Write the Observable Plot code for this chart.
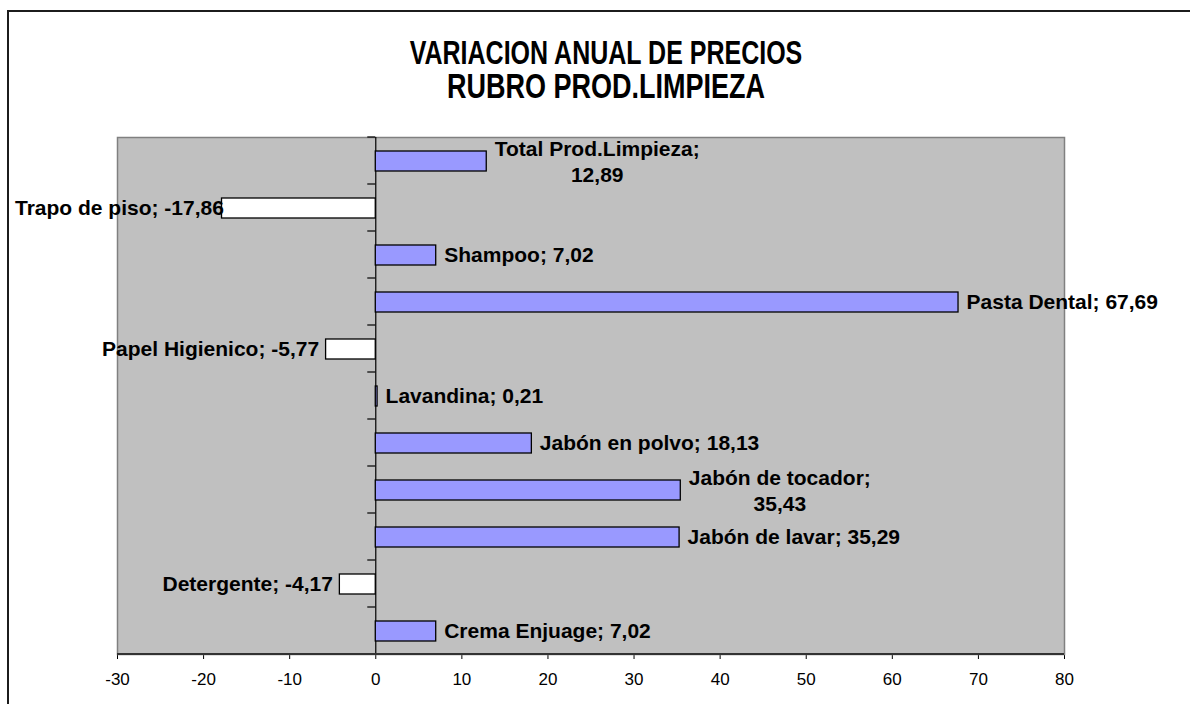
<!DOCTYPE html>
<html><head><meta charset="utf-8">
<script src="https://cdn.jsdelivr.net/npm/d3@7"></script>
<script src="https://cdn.jsdelivr.net/npm/@observablehq/plot@0.6"></script>
<style>
html,body{margin:0;padding:0;background:#fff;}
#wrap{position:relative;width:1190px;height:704px;overflow:hidden;font-family:"Liberation Sans",Arial,sans-serif;}
#border{position:absolute;left:7px;top:10px;width:3000px;height:3000px;border-left:2px solid #1c1c1c;border-top:2px solid #1c1c1c;z-index:2;pointer-events:none;}
#title{position:relative;height:100px;}
.t{position:absolute;left:0;width:1212px;text-align:center;font-weight:bold;color:#000;transform:scaleY(1.3);white-space:nowrap;line-height:1;}
#t1{font-size:25px;top:40px;}
#t2{font-size:27px;top:73px;}
#chart svg{display:block;}
</style>
</head><body>
<div id="wrap">
  <div id="border"></div>
  <div id="title">
    <div class="t" id="t1">VARIACION ANUAL DE PRECIOS</div>
    <div class="t" id="t2">RUBRO PROD.LIMPIEZA</div>
  </div>
  <div id="chart"></div>
</div>
<script>
const categories = ["Crema Enjuage","Detergente","Jabón de lavar","Jabón de tocador","Jabón en polvo","Lavandina","Papel Higienico","Pasta Dental","Shampoo","Trapo de piso","Total Prod.Limpieza"];
const values = [7.02,-4.17,35.29,35.43,18.13,0.21,-5.77,67.69,7.02,-17.86,12.89];
const xTicks = [-30,-20,-10,0,10,20,30,40,50,60,70,80];
const wrappedLabels = ["Total Prod.Limpieza","Jabón de tocador"];

const fmt = v => v.toFixed(2).replace(".", ",");
const rows = categories.map((name, i) => ({name, value: values[i]}));
const yDomain = categories.slice().reverse();

const labelFont = 21;
const fontFamily = '"Liberation Sans", Arial, sans-serif';
const ctx = document.createElement("canvas").getContext("2d");
ctx.font = `bold ${labelFont}px ${fontFamily}`;
const gap = 8;

const single = rows.filter(d => !wrappedLabels.includes(d.name));
const wrappedMarks = rows.filter(d => wrappedLabels.includes(d.name)).map(d => {
  const first = `${d.name};`;
  const w = ctx.measureText(first).width;
  return Plot.text([d], {
    x: "value", y: "name",
    text: r => `${r.name};\n${fmt(r.value)}`,
    textAnchor: "middle", dx: gap + w / 2,
    lineHeight: 1.2,
    fontSize: labelFont, fontWeight: "bold", fill: "#000"
  });
});

const structure = (index, scales, vals, dims) => {
  const g = d3.create("svg:g");
  const x0 = scales.x(0);
  const bw = scales.y.bandwidth();
  const starts = yDomain.map(c => scales.y(c));
  const bounds = starts.concat([Math.max(...starts) + bw]);
  for (const y of bounds) {
    g.append("line").attr("x1", x0 - 8).attr("x2", x0).attr("y1", y).attr("y2", y)
      .attr("stroke", "#000").attr("stroke-width", 1.2);
  }
  const yb = dims.height - dims.marginBottom;
  g.append("line").attr("x1", dims.marginLeft).attr("x2", dims.width - dims.marginRight)
    .attr("y1", yb).attr("y2", yb).attr("stroke", "#333").attr("stroke-width", 2);
  return g.node();
};

const chart = Plot.plot({
  width: 1190,
  height: 604,
  marginTop: 37,
  marginBottom: 50,
  marginLeft: 117,
  marginRight: 126,
  style: {fontFamily, fontSize: "17px", background: "transparent", color: "#000", overflow: "visible"},
  x: {domain: [-30, 80], ticks: xTicks, tickFormat: d => String(d), tickSize: 5, tickPadding: 13, label: null},
  y: {domain: yDomain, padding: 0, axis: null},
  marks: [
    Plot.frame({fill: "#C0C0C0", stroke: "#808080", strokeWidth: 1.5}),
    Plot.ruleX([0], {stroke: "#000", strokeWidth: 1.2}),
    Plot.barX(rows.filter(d => d.value >= 0), {x: "value", y: "name", fill: "#9999FF", stroke: "#000", strokeWidth: 1.3, insetTop: 14, insetBottom: 13}),
    Plot.barX(rows.filter(d => d.value < 0), {x: "value", y: "name", fill: "#FFFFFF", stroke: "#000", strokeWidth: 1.3, insetTop: 14, insetBottom: 13}),
    structure,
    Plot.text(single.filter(d => d.value >= 0), {x: "value", y: "name", text: d => `${d.name}; ${fmt(d.value)}`, textAnchor: "start", dx: gap, fontSize: labelFont, fontWeight: "bold", fill: "#000"}),
    Plot.text(single.filter(d => d.value < 0), {x: "value", y: "name", text: d => `${d.name}; ${fmt(d.value)}`, textAnchor: "end", dx: -7, fontSize: labelFont, fontWeight: "bold", fill: "#000"}),
    ...wrappedMarks
  ]
});
document.getElementById("chart").appendChild(chart);

// Keep data labels inside the chart area (as the spreadsheet does): nudge any label
// that would cross the outer frame back to the right.
const minLeft = 15;
const svgBox = chart.getBoundingClientRect();
chart.querySelectorAll("text").forEach(t => {
  const b = t.getBoundingClientRect();
  const left = b.left - svgBox.left;
  if (left < minLeft && b.width > 40) {
    t.setAttribute("dx", String(minLeft - left));
  }
});
</script>
</body></html>
